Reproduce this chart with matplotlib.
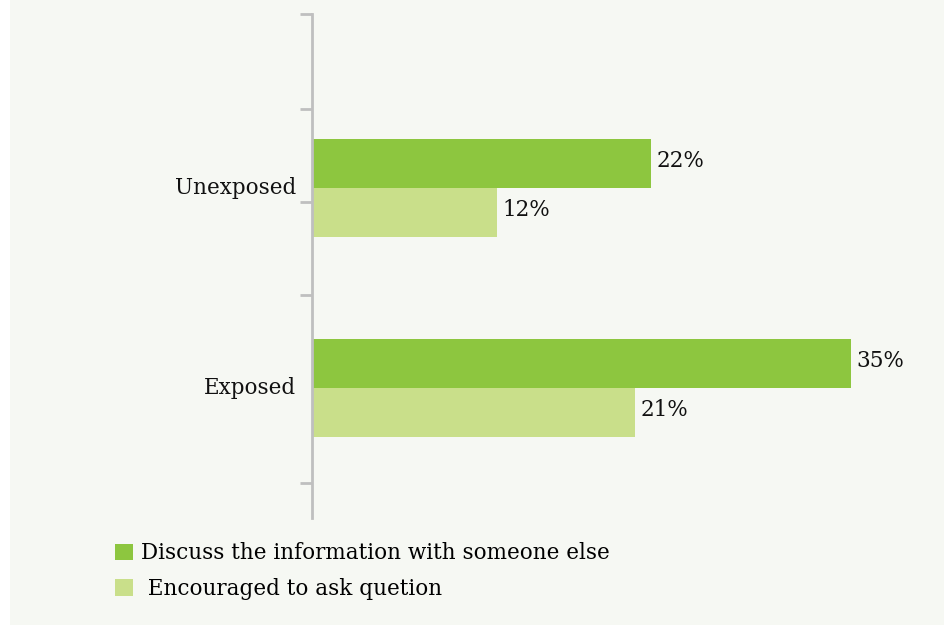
import matplotlib
matplotlib.use("Agg")
import matplotlib.pyplot as plt
from matplotlib.patches import Rectangle, Patch

# Data
categories = ["Unexposed", "Exposed"]
discuss = [22, 35]
encouraged = [12, 21]
series_names = ["Discuss the information with someone else", " Encouraged to ask quetion"]
tick_positions = [-0.87, -0.395, 0.07, 0.535, 1.475]

DARK = "#8DC63F"
LIGHT = "#C9DF8A"
PANEL = "#F6F8F3"
AXIS = "#BFBFBF"
FS = 15.5

plt.rcParams["font.family"] = ["DejaVu Serif"]
W, H = 945, 626
fig = plt.figure(figsize=(W / 100, H / 100), dpi=100, facecolor="white")
fig.patches.append(Rectangle((10 / W, 1 - 625 / H), (W - 10) / W, 625 / H,
                             transform=fig.transFigure, facecolor=PANEL,
                             edgecolor="none", zorder=-10))

ax = fig.add_axes([312 / W, 1 - 518 / H, (W - 312) / W, (518 - 14) / H])
ax.set_facecolor("none")

bar_h = 0.245
ypos = list(range(len(categories)))
b1 = ax.barh([y - bar_h / 2 for y in ypos], discuss, height=bar_h, color=DARK)
b2 = ax.barh([y + bar_h / 2 for y in ypos], encouraged, height=bar_h, color=LIGHT)

for bars, vals in ((b1, discuss), (b2, encouraged)):
    for rect, v in zip(bars, vals):
        ax.annotate(f"{v}%", (v, rect.get_y() + rect.get_height() / 2),
                    xytext=(4, 2), textcoords="offset points",
                    ha="left", va="center", fontsize=FS, color="#111111")

ax.set_xlim(0, 41.1)
ax.set_ylim(1.65, -0.87)
ax.set_xticks([])
ax.set_yticks(tick_positions)
ax.set_yticklabels([])
ax.tick_params(axis="y", length=9, width=2, color=AXIS)
for y, name in zip(ypos, categories):
    ax.text(-0.0255, y, name, transform=ax.get_yaxis_transform(),
            ha="right", va="center", fontsize=FS, color="#111111")

for s in ("top", "right", "bottom"):
    ax.spines[s].set_visible(False)
ax.spines["left"].set_color(AXIS)
ax.spines["left"].set_linewidth(2)

handles = [Patch(facecolor=DARK, edgecolor="none"), Patch(facecolor=LIGHT, edgecolor="none")]
fig.legend(handles, series_names, loc="upper left",
           bbox_to_anchor=(109 / W, 1 - 536 / H), frameon=False,
           fontsize=FS, handlelength=0.8, handleheight=0.8,
           handletextpad=0.4, labelspacing=0.62, borderpad=0.3,
           borderaxespad=0)

fig.savefig("out.png", dpi=100, facecolor="white")
